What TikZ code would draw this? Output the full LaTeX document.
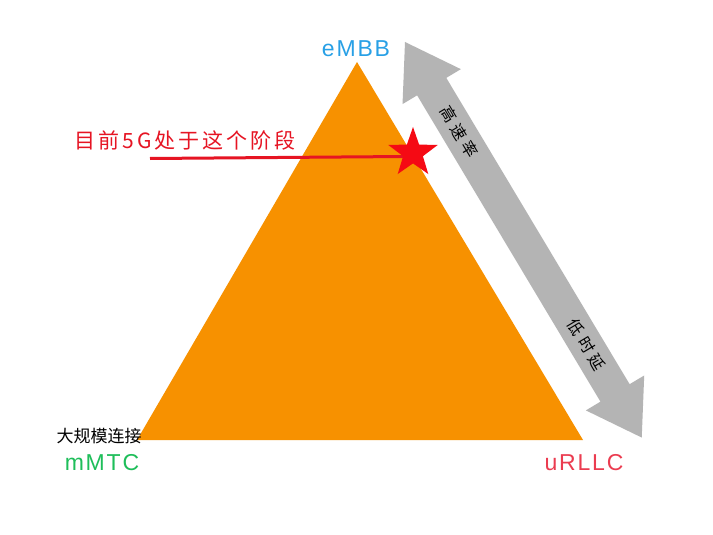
\documentclass[tikz,border=0pt]{standalone}
\usepackage{fontspec}
\usetikzlibrary{shapes.geometric}
\newfontfamily\cjk{Noto Sans CJK SC}
\newfontfamily\cjkwide[LetterSpace=14]{Noto Sans CJK SC}
\newfontfamily\cjkarrow[LetterSpace=28]{Noto Sans CJK SC}
\newfontfamily\lbl[LetterSpace=8]{Liberation Sans}
\definecolor{triorange}{RGB}{247,145,0}
\definecolor{arrgray}{RGB}{180,180,180}
\definecolor{embbblue}{RGB}{40,160,230}
\definecolor{mmtcgreen}{RGB}{30,190,90}
\definecolor{urllcred}{RGB}{235,60,80}
\definecolor{notered}{RGB}{230,20,35}
\definecolor{starred}{RGB}{245,10,20}
\tikzset{
  corner/.style={font=\lbl\fontsize{23}{23}\selectfont, inner sep=0pt},
  arrowtext/.style={font=\cjkarrow\fontsize{16}{16}\selectfont, inner sep=0pt, transform shape, text=black},
}
\begin{document}
\begin{tikzpicture}[x=1pt,y=-1pt]
\useasboundingbox (0,0) rectangle (713,535);
\fill[white] (0,0) rectangle (713,535);
% triangle
\coordinate (top) at (357,62);
\coordinate (bl) at (137,440);
\coordinate (br) at (583,440);
\fill[triorange] (top) -- (br) -- (bl) -- cycle;
% double arrow
\begin{scope}[shift={(405,42)}, rotate=-59.1]
  \fill[arrgray] (0,0) -- (52,34) -- (52,17) -- (409,17) -- (409,34) -- (461,0)
     -- (409,-34) -- (409,-17) -- (52,-17) -- (52,-34) -- cycle;
  \node[arrowtext] (gsl) at (105,0) {高速率};
  \node[arrowtext] (dsy) at (353,0) {低时延};
\end{scope}
% labels
\node[corner, text=embbblue] (embb) at (356,49) {eMBB};
\node[corner, text=mmtcgreen] (mmtc) at (102,463) {mMTC};
\node[corner, text=urllcred] (urllc) at (584,463) {uRLLC};
\node[font=\cjk\fontsize{17}{17}\selectfont, inner sep=0pt, text=black] (dgm) at (99,436) {大规模连接};
% note
\node[font=\cjkwide\fontsize{21}{21}\selectfont, inner sep=0pt, text=notered] (note) at (185,140) {目前5G处于这个阶段};
\coordinate (ls) at (150,158.5);
\coordinate (le) at (405,156.5);
\draw[notered, line width=3pt] (ls) -- (le);
\node[star, star points=5, star point ratio=2.5, minimum size=52pt, inner sep=0pt, fill=starred] (star) at (413,153) {};
\end{tikzpicture}
\end{document}
